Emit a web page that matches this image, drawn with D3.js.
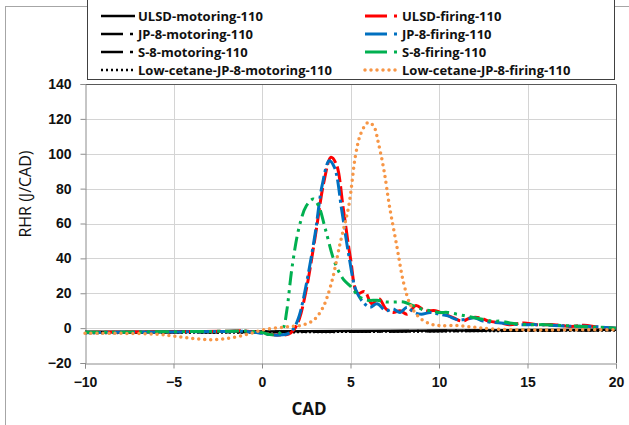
<!DOCTYPE html>
<html>
<head>
<meta charset="utf-8">
<script src="https://cdn.jsdelivr.net/npm/d3@7"></script>
<style>
  body { margin: 0; background: #fff; }
  svg { display: block; font-family: "Open Sans", "DejaVu Sans", sans-serif; }
</style>
</head>
<body>
<div id="main"></div>
<script>
// ---- data ----
var xTicks = [-10, -5, 0, 5, 10, 15, 20];
var yTicks = [-20, 0, 20, 40, 60, 80, 100, 120, 140];

var ulsdMotoring = [[-10,-2.1],[-5,-2.0],[0,-1.9],[5,-1.7],[10,-1.4],[15,-1.1],[20,-0.9]];
var jp8Motoring = [[-10,-2.4],[-5,-2.3],[0,-2.1],[5,-1.9],[10,-1.6],[15,-1.3],[20,-1.1]];
var s8Motoring = [[-10,-2.6],[-5,-2.4],[0,-2.2],[5,-2.0],[10,-1.7],[15,-1.4],[20,-1.2]];
var lowCetaneMotoring = [[-10,-2.8],[-5,-2.6],[0,-2.4],[5,-2.1],[10,-1.8],[15,-1.5],[20,-1.3]];

var ulsdFiring = [[-10,-2.5],[-8,-2.3],[-6,-2.2],[-4,-2],[-2,-1.8],[-1,-1.6],[0,-2.8],[0.5,-3.6],[1,-4],
  [1.5,-3.5],[1.8,-1],[2.1,5],[2.5,22],[3,52],[3.5,84],[3.9,98],[4.2,94],[4.6,68],[5,40],[5.4,20],
  [5.8,21],[6.2,14],[6.6,17],[7,11],[7.4,9],[7.8,10],[8.2,8],[8.7,13],[9.2,10],[9.8,10],[10.3,8],
  [10.8,6],[11.3,4],[11.8,6],[12.3,6],[12.8,4],[13.5,3],[14,2],[14.8,3],[15.5,2],[16.5,2],[17.5,1],
  [18.2,1.7],[19,0.5],[20,0]];
var jp8Firing = [[-10,-2.6],[-8,-2.4],[-6,-2.3],[-4,-2.1],[-2,-1.9],[-1,-1.8],[0,-3],[0.5,-3.8],[1,-4],
  [1.5,-3],[1.8,0],[2.1,7],[2.5,25],[3,54],[3.4,82],[3.8,96],[4.1,92],[4.5,68],[4.9,42],[5.3,22],
  [5.7,15],[6.1,12],[6.5,14],[7,10],[7.4,11],[7.8,9],[8.2,12],[8.6,9],[9,8],[9.5,9],[10,8],[10.5,7],
  [11,5],[11.5,5],[12,6],[12.5,4],[13.5,3],[14.5,2],[15.5,2],[16.5,1.5],[17.5,1],[18.5,1],[20,0]];
var s8Firing = [[-10,-2.4],[-8,-2.3],[-6,-2.1],[-4,-2],[-2,-1.8],[-1,-1.7],[0,-2.5],[0.4,-3.6],[0.9,-3.5],
  [1.2,0],[1.4,10],[1.7,35],[2.1,58],[2.5,70],[2.9,74],[3.2,70],[3.6,56],[4.1,38],[4.6,28],[5,24],
  [5.5,18],[6,16],[6.5,16],[7,15],[7.5,15],[8,15],[8.5,13],[9,11],[9.5,10],[10,9],[10.5,9],[11,8],
  [11.5,7],[12,6],[12.5,5],[13,4],[13.5,4],[14,3],[15,2],[16,2],[17,1.5],[18,1],[19,0.5],[20,0]];
var lowCetaneFiring = [[-10,-3],[-8,-3],[-6,-3.5],[-5,-4.5],[-4,-5.8],[-3,-6.6],[-2,-6],[-1,-4],
  [-0.3,-2],[0.3,-0.5],[1,0.3],[1.7,1],[2.3,1.8],[2.9,4.5],[3.4,11],[3.9,25],[4.4,48],[4.9,70],
  [5.3,100],[5.6,112],[6,118],[6.3,116],[6.6,105],[6.9,90],[7.2,70],[7.6,48],[8,26],[8.4,13],
  [8.9,6],[9.5,2.5],[10,1.5],[11,1.5],[12,0.5],[13,-0.5],[15,-1],[17,-1],[20,-1]];

// ---- series styling ----
var series = [
  {name: "ULSD-motoring-110", values: ulsdMotoring, color: "#000", dash: null, width: 2.5, col: 0, row: 0},
  {name: "JP-8-motoring-110", values: jp8Motoring, color: "#000", dash: "20,8,2,8", width: 2.5, col: 0, row: 1},
  {name: "S-8-motoring-110", values: s8Motoring, color: "#000", dash: "20,8,2,8", width: 2.5, col: 0, row: 2},
  {name: "Low-cetane-JP-8-motoring-110", values: lowCetaneMotoring, color: "#000", dash: "2,2", width: 2.5, col: 0, row: 3},
  {name: "ULSD-firing-110", values: ulsdFiring, color: "#ff0000", dash: "16,4", width: 3, col: 1, row: 0},
  {name: "JP-8-firing-110", values: jp8Firing, color: "#0070c0", dash: "16,4,3,4", width: 3, col: 1, row: 1},
  {name: "S-8-firing-110", values: s8Firing, color: "#00b050", dash: "14,5,3,5,3,5", width: 3, col: 1, row: 2},
  {name: "Low-cetane-JP-8-firing-110", values: lowCetaneFiring, color: "#f79646", dash: "0,6", width: 3.5, col: 1, row: 3, round: true}
];

var W = 629, H = 425;
var margin = {top: 84, right: 13, bottom: 62, left: 85};

var svg = d3.select("#main").append("svg")
    .attr("width", W)
    .attr("height", H);

// outer chart frame (only top/left show)
svg.append("rect")
    .attr("x", 5.5).attr("y", 6.5)
    .attr("width", 700).attr("height", 700)
    .attr("fill", "none")
    .attr("stroke", "#a6a6a6");

var x = d3.scaleLinear().domain([-10, 20]).range([margin.left, W - margin.right]);
var y = d3.scaleLinear().domain([-20, 140]).range([H - margin.bottom, margin.top]);

// gridlines
svg.append("g").selectAll("line.h")
    .data(yTicks.slice(1))
    .enter().append("line")
    .attr("x1", x(-10)).attr("x2", x(20))
    .attr("y1", function(d) { return Math.round(y(d)) + 0.5; })
    .attr("y2", function(d) { return Math.round(y(d)) + 0.5; })
    .attr("stroke", "#d4d4d4");
svg.append("g").selectAll("line.v")
    .data(xTicks.slice(1))
    .enter().append("line")
    .attr("y1", y(-20)).attr("y2", y(140))
    .attr("x1", function(d) { return Math.round(x(d)) + 0.5; })
    .attr("x2", function(d) { return Math.round(x(d)) + 0.5; })
    .attr("stroke", "#d4d4d4");

// plot border top / right
svg.append("path")
    .attr("d", "M" + x(-10) + "," + (y(140) + 0.5) + "H" + (x(20) + 0.5) + "V" + y(-20))
    .attr("fill", "none")
    .attr("stroke", "#595959");

// axes
var xAxis = svg.append("g")
    .attr("transform", "translate(0," + (Math.round(y(-20)) + 0.5) + ")")
    .call(d3.axisBottom(x).tickValues(xTicks).tickSize(5).tickPadding(9));
var yAxis = svg.append("g")
    .attr("transform", "translate(" + (Math.round(x(-10)) + 0.5) + ",0)")
    .call(d3.axisLeft(y).tickValues(yTicks).tickSize(5).tickPadding(9));

[xAxis, yAxis].forEach(function(a) {
    a.select(".domain").attr("stroke", "#8c8c8c");
    a.selectAll(".tick line").attr("stroke", "#8c8c8c");
    a.selectAll(".tick text")
        .attr("fill", "#111")
        .style("font-size", "14px")
        .style("font-weight", "bold");
});

// lines
var line = d3.line()
    .x(function(d) { return x(d[0]); })
    .y(function(d) { return y(d[1]); })
    .curve(d3.curveCatmullRom.alpha(0.5));

svg.append("g").selectAll("path.series")
    .data(series)
    .enter().append("path")
    .attr("class", "series")
    .attr("d", function(d) { return line(d.values); })
    .attr("fill", "none")
    .attr("stroke", function(d) { return d.color; })
    .attr("stroke-width", function(d) { return d.width; })
    .attr("stroke-linecap", function(d) { return d.round ? "round" : "butt"; })
    .attr("stroke-dasharray", function(d) { return d.dash; });

// axis titles
svg.append("text")
    .attr("transform", "translate(31,194) rotate(-90)")
    .attr("text-anchor", "middle")
    .style("font-size", "16px")
    .attr("fill", "#111")
    .text("RHR (J/CAD)");

svg.append("text")
    .attr("x", 309).attr("y", 415)
    .attr("text-anchor", "middle")
    .style("font-size", "17px")
    .style("font-weight", "bold")
    .attr("fill", "#111")
    .text("CAD");

// legend
var legend = svg.append("g");
legend.append("rect")
    .attr("x", 87.5).attr("y", -2)
    .attr("width", 527).attr("height", 81.5)
    .attr("fill", "#fff")
    .attr("stroke", "#404040");

var colX = [101, 365], rowY = [16, 34, 52, 70];
var item = legend.selectAll("g.item")
    .data(series)
    .enter().append("g")
    .attr("transform", function(d) { return "translate(" + colX[d.col] + "," + rowY[d.row] + ")"; });

item.append("line")
    .attr("x1", 0).attr("x2", 34)
    .attr("stroke", function(d) { return d.color; })
    .attr("stroke-width", function(d) { return d.width; })
    .attr("stroke-linecap", function(d) { return d.round ? "round" : "butt"; })
    .attr("stroke-dasharray", function(d) {
        if (d.round) return "0,6";
        if (d.dash === "2,2") return "2,3";
        return d.dash ? "22,7,3,20" : null;
    });

item.append("text")
    .attr("x", 37).attr("dy", "0.35em")
    .style("font-size", "13px")
    .style("font-weight", "bold")
    .attr("fill", "#111")
    .text(function(d) { return d.name; });
</script>
</body>
</html>
